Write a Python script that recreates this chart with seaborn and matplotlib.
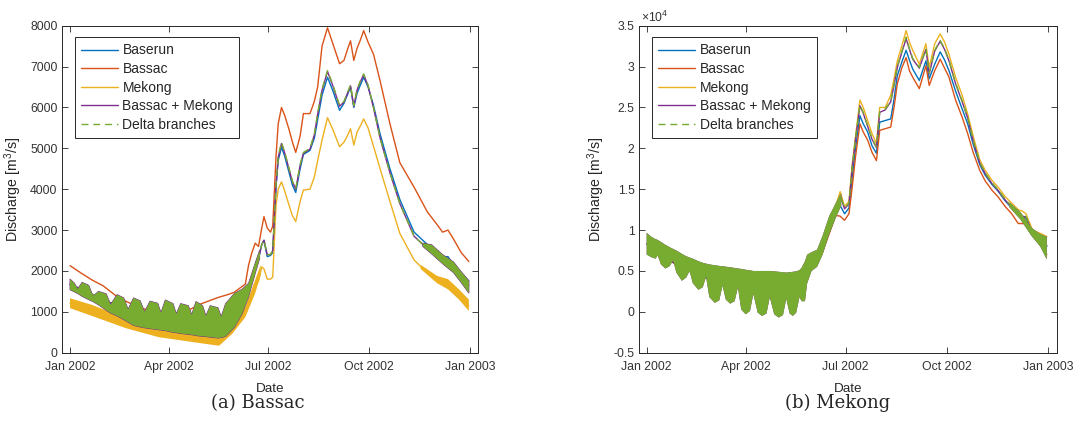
import numpy as np
import pandas as pd
import seaborn as sns
import matplotlib
matplotlib.use('Agg')
import matplotlib.pyplot as plt
import matplotlib.dates as mdates
from matplotlib.ticker import FuncFormatter

nan = np.nan

# 数据（按图读取，单位 m3/s，天数从 2002-01-01 起算）
base = pd.Timestamp('2002-01-01')

# ---- (a) Bassac ----
days_a = [0, 10, 20, 30, 45, 60, 75, 90, 105, 120,
          135, 145, 150, 156, 160, 163, 166, 169, 172, 175,
          177, 180, 183, 185, 188, 190, 193, 196, 200, 203,
          206, 210, 213, 219, 223, 226, 230, 235, 240, 246,
          250, 253, 256, 259, 262, 265, 268, 272, 277, 283,
          292, 301, 314, 326, 336, 340, 345, 350, 357, 364]

baserun_a = [1670, 1560, 1430, 1300, 1130, 950, 850, 780, 720, 700,
             680, 760, 900, 1100, 1250, 1500, 1800, 2150, 2300, 2650,
             2750, 2350, 2380, 2450, 4050, 4700, 5030, 4800, 4400, 4100,
             3920, 4500, 4850, 4950, 5250, 5700, 6300, 6740, 6400, 5930,
             6100, 6300, 6500, 6000, 6350, 6550, 6740, 6500, 6050, 5350,
             4500, 3750, 2950, 2650, 2450, 2350, 2350, 2150, 1950, 1750]

bassac_a = [2130, 1950, 1780, 1640, 1330, 1150, 1000, 950, 1000, 1200,
            1350, 1430, 1480, 1600, 1680, 2150, 2450, 2680, 2600, 3050,
            3330, 3050, 2950, 3100, 4800, 5600, 6000, 5800, 5450, 5150,
            4900, 5300, 5850, 5850, 6150, 6500, 7500, 7950, 7550, 7070,
            7150, 7400, 7630, 7150, 7450, 7650, 7880, 7600, 7300, 6650,
            5600, 4650, 4050, 3450, 3100, 2950, 3000, 2780, 2450, 2230]

mekong_a = [1210, 1120, 1050, 950, 800, 680, 580, 510, 460, 410,
            340, 500, 640, 800, 1000, 1150, 1350, 1600, 1750, 2100,
            2050, 1800, 1800, 1850, 3600, 4000, 4180, 3950, 3600, 3350,
            3210, 3700, 3980, 4000, 4300, 4700, 5200, 5750, 5450, 5040,
            5150, 5300, 5480, 5080, 5400, 5550, 5720, 5500, 5050, 4500,
            3700, 2920, 2270, 1950, 1780, 1700, 1680, 1550, 1350, 1150]

combined_a = [1670, 1560, 1430, 1300, 1130, 950, 850, 780, 720, 700,
              680, 760, 900, 1100, 1250, 1500, 1800, 2150, 2300, 2650,
              2750, 2400, 2400, 2500, 4100, 4780, 5120, 4880, 4480, 4180,
              4000, 4580, 4880, 4980, 5330, 5830, 6420, 6880, 6520, 6030,
              6130, 6330, 6530, 6030, 6430, 6630, 6800, 6530, 5990, 5250,
              4400, 3650, 2850, 2550, 2350, 2250, 2250, 2100, 1850, 1650]

delta_a = [1670, 1560, 1430, 1300, 1130, 950, 850, 780, 720, 700,
           680, 760, 900, 1100, 1250, 1500, 1800, 2150, 2300, 2650,
           2750, 2400, 2400, 2500, 4100, 4800, 5150, 4900, 4500, 4200,
           4020, 4600, 4900, 5000, 5350, 5850, 6450, 6900, 6550, 6050,
           6150, 6350, 6550, 6050, 6450, 6650, 6820, 6550, 6000, 5250,
           4400, 3650, 2850, 2550, 2350, 2250, 2250, 2100, 1850, 1650]

# 潮汐包络（Delta branches / Bassac + Mekong），大小潮形成的"驼峰"
tide_days_a = [0, 4, 7, 11, 17, 21, 26, 33, 37, 43,
               49, 53, 58, 64, 68, 73, 80, 83, 87, 94,
               97, 101, 108, 111, 115, 121, 124, 128, 135, 138,
               142, 150, 157, 163, 169, 173, 250, 322, 330, 340,
               350, 357, 364]
tide_lo_a = [1540, 1490, 1450, 1380, 1300, 1250, 1170, 1040, 970, 900,
             810, 750, 670, 630, 610, 590, 565, 555, 540, 500,
             490, 470, 450, 440, 420, 400, 395, 380, 360, 370,
             400, 620, 950, 1370, 1940, 2300, nan, 2600, 2420, 2180,
             1960, 1720, 1460]
tide_hi_a = [1800, 1700, 1560, 1720, 1650, 1380, 1500, 1440, 1180, 1420,
             1340, 1060, 1340, 1270, 1000, 1260, 1210, 980, 1290, 1200,
             950, 1200, 1150, 930, 1250, 1150, 900, 1150, 1100, 880,
             1200, 1450, 1550, 1700, 2190, 2500, nan, 2680, 2640, 2400,
             2220, 1980, 1760]

# 潮汐包络（Mekong）
mk_days_a = [0, 20, 51, 81, 112, 136, 148, 160, 169, 174,
             250, 320, 335, 345, 355, 364]
mk_lo_a = [1090, 900, 600, 380, 260, 170, 460, 870, 1455, 1900,
           nan, 2050, 1700, 1550, 1300, 1020]
mk_hi_a = [1333, 1170, 846, 642, 560, 480, 724, 1130, 1780, 2150,
           nan, 2150, 1880, 1800, 1550, 1300]

# ---- (b) Mekong ----
days_b = [0, 10, 20, 30, 45, 60, 75, 90, 105, 120,
          135, 145, 150, 156, 160, 164, 168, 172, 176, 180,
          184, 187, 190, 194, 197, 201, 205, 209, 212, 217,
          222, 225, 228, 232, 236, 239, 242, 248, 254, 257,
          262, 267, 271, 275, 281, 287, 292, 297, 303, 308,
          314, 320, 326, 332, 338, 342, 345, 351, 358, 364]

baserun_b = [8300, 7400, 6400, 5500, 4600, 3900, 3500, 2800, 2700, 2500,
             2600, 4000, 5900, 6500, 7700, 9200, 10800, 12300, 13000, 12000,
             12700, 16500, 20000, 24000, 23000, 22000, 20300, 19400, 23200, 23400,
             23600, 26000, 28900, 30500, 32000, 30800, 29700, 28300, 30700, 28500,
             30300, 31800, 30800, 29500, 27000, 24800, 23000, 20500, 18000, 16700,
             15600, 14700, 13600, 12700, 11800, 11600, 11500, 9500, 8700, 8000]

bassac_b = [8300, 7400, 6400, 5500, 4600, 3900, 3500, 2800, 2700, 2500,
            2600, 4000, 5800, 6300, 7300, 8800, 10300, 11800, 11700, 11200,
            12000, 15300, 19000, 23000, 22000, 21000, 19500, 18500, 22200, 22400,
            22600, 25000, 27900, 29800, 31100, 29500, 28700, 27300, 30100, 27700,
            29500, 30900, 29800, 28700, 25900, 23800, 21800, 19500, 17300, 16000,
            14900, 14000, 12900, 12000, 10800, 10800, 10800, 9300, 8200, 7000]

mekong_b = [8300, 7400, 6400, 5500, 4600, 3900, 3500, 2800, 2700, 2500,
            2600, 4000, 6200, 6800, 8300, 10000, 11500, 13000, 14700, 12900,
            13500, 18100, 21500, 25900, 25000, 23400, 21800, 20600, 25000, 25000,
            26500, 28500, 30700, 32500, 34400, 33000, 32000, 30300, 32800, 29900,
            32800, 34000, 33000, 31500, 28700, 26500, 24200, 21500, 18600, 17300,
            16100, 15200, 14100, 13300, 12500, 12300, 12000, 10000, 9600, 9200]

combined_b = [8300, 7400, 6400, 5500, 4600, 3900, 3500, 2800, 2700, 2500,
              2600, 4000, 6000, 6600, 8000, 9600, 11200, 12700, 14200, 12600,
              13200, 17700, 21100, 25200, 24300, 22700, 21100, 20100, 24400, 24700,
              25700, 27700, 29900, 31700, 33400, 32100, 30900, 29800, 32100, 29100,
              31900, 33100, 32100, 30700, 27900, 25700, 23700, 20900, 18200, 16900,
              15700, 14800, 13700, 12800, 11900, 11700, 11600, 9600, 8800, 8100]

delta_b = [8300, 7400, 6400, 5500, 4600, 3900, 3500, 2800, 2700, 2500,
           2600, 4000, 6000, 6600, 8000, 9600, 11200, 12700, 14300, 12700,
           13300, 17800, 21200, 25300, 24400, 22800, 21200, 20200, 24500, 24800,
           25800, 27800, 30000, 31800, 33600, 32200, 31000, 29900, 32200, 29200,
           32000, 33200, 32200, 30800, 28000, 25800, 23800, 21000, 18300, 17000,
           15800, 14900, 13800, 12900, 12000, 11800, 11700, 9700, 8900, 8200]

# 潮汐包络（下缘的"垂叶"形状）
tide_days_b = [0, 4, 8, 10, 13, 17, 21, 24, 27, 32,
               36, 39, 42, 47, 51, 54, 57, 62, 66, 69,
               72, 76, 80, 83, 86, 90, 94, 97, 101, 105,
               109, 112, 116, 120, 124, 127, 130, 133, 136, 139,
               141, 144, 146, 150, 155, 160, 166, 172, 177, 250,
               330, 340, 350, 358, 364]
tide_lo_b = [7000, 6700, 6500, 6900, 5800, 5300, 5600, 6300, 4800, 3800,
             4200, 5000, 3500, 2700, 3000, 4300, 1800, 1100, 1400, 3200,
             1500, 1000, 1300, 3000, 300, -300, 100, 2200, -100, -500,
             -200, 1800, -300, -700, -400, 1600, -200, -500, -100, 1800,
             1300, 1300, 3500, 5000, 5500, 7000, 9500, 11500, 13000, nan,
             12800, 11300, 9300, 8000, 6400]
tide_hi_b = [9670, 9200, 8900, 8800, 8550, 8200, 7900, 7700, 7500, 7100,
             6800, 6650, 6500, 6200, 6000, 5900, 5800, 5700, 5620, 5580,
             5520, 5450, 5370, 5300, 5250, 5150, 5080, 5000, 5000, 5000,
             5000, 5000, 4950, 4900, 4850, 4800, 4850, 4900, 4950, 5100,
             5400, 6200, 7000, 7300, 7600, 9300, 11700, 13300, 14500, nan,
             13400, 12200, 10300, 9500, 9200]

labels = ['Baserun', 'Bassac', 'Mekong', 'Bassac + Mekong', 'Delta branches']
colors = ['#0072BD', '#D95319', '#EDB120', '#7E2F8E', '#77AC30']
styles = ['-', '-', '-', '-', (0, (5, 3.5))]

sns.set_style('ticks')
plt.rcParams['font.family'] = ['Liberation Sans', 'DejaVu Sans']
plt.rcParams['mathtext.fontset'] = 'custom'
plt.rcParams['mathtext.rm'] = 'Liberation Sans'
plt.rcParams['mathtext.it'] = 'Liberation Sans:italic'

fig = plt.figure(figsize=(10.75, 4.41), dpi=100)
ax_a = fig.add_axes([0.0574, 0.2002, 0.3873, 0.7415])
ax_b = fig.add_axes([0.5942, 0.2002, 0.3890, 0.7415])


def to_dates(days):
    return base + pd.to_timedelta(np.array(days, dtype=float), unit='D')


def draw_panel(ax, days, values, bands, edge_width):
    # 按 MATLAB 的绘制顺序叠放：后画的序列（含潮汐带）盖住先画的
    dates = to_dates(days)
    for i, (name, color, ls, vals) in enumerate(zip(labels, colors, styles, values)):
        z = 2 + i
        if i in bands:
            tdays, lo, hi = bands[i]
            lw = edge_width if i == 3 else 0
            ax.fill_between(to_dates(tdays), np.array(lo, float), np.array(hi, float),
                            facecolor=color, edgecolor=color if lw else 'none',
                            linewidth=lw, zorder=z)
        df = pd.DataFrame({'date': dates, 'q': vals})
        sns.lineplot(data=df, x='date', y='q', ax=ax, color=color, linestyle=ls,
                     linewidth=1.0, label=name, sort=False, errorbar=None, zorder=z + 0.5)


draw_panel(ax_a, days_a, [baserun_a, bassac_a, mekong_a, combined_a, delta_a],
           {2: (mk_days_a, mk_lo_a, mk_hi_a),
            3: (tide_days_a, tide_lo_a, tide_hi_a),
            4: (tide_days_a, tide_lo_a, tide_hi_a)}, 0.7)
draw_panel(ax_b, days_b, [baserun_b, bassac_b, mekong_b, combined_b, delta_b],
           {3: (tide_days_b, tide_lo_b, tide_hi_b),
            4: (tide_days_b, tide_lo_b, tide_hi_b)}, 0)

ticks = [pd.Timestamp(s) for s in ['2002-01-01', '2002-04-01', '2002-07-01', '2002-10-01', '2003-01-01']]

for ax, (x0, x1) in [(ax_a, (-7.6, 372.4)), (ax_b, (-7.2, 373.2))]:
    ax.set_xlim(mdates.date2num(base + pd.Timedelta(days=x0)), mdates.date2num(base + pd.Timedelta(days=x1)))
    ax.set_xticks([mdates.date2num(t) for t in ticks])
    ax.xaxis.set_major_formatter(mdates.DateFormatter('%b %Y'))
    ax.tick_params(direction='in', top=True, right=True, length=4, width=0.6,
                   color='#262626', labelcolor='#333333', labelsize=8.8)
    ax.tick_params(axis='x', pad=6)
    ax.tick_params(axis='y', pad=3)
    for sp in ax.spines.values():
        sp.set_linewidth(0.7)
        sp.set_color('#262626')
        sp.set_zorder(10)
    ax.set_xlabel('Date', fontsize=9.7, color='#262626')
    ax.set_ylabel('Discharge [m$^{3}$/s]', fontsize=10.2, color='#262626')
    ax.xaxis.set_label_coords(0.5, -0.093)
    leg = ax.legend(loc='upper left', bbox_to_anchor=(0.032, 0.965), borderaxespad=0,
                    fontsize=10, frameon=True, fancybox=False, framealpha=1,
                    edgecolor='#262626', labelspacing=0.33, borderpad=0.45,
                    handlelength=2.66, handletextpad=0.3)
    leg.get_frame().set_linewidth(0.7)
    leg.set_zorder(20)

ax_a.set_ylim(0, 8000)
ax_a.set_yticks(range(0, 8001, 1000))
ax_a.yaxis.set_label_coords(-0.0906, 0.5)

ax_b.set_ylim(-5000, 35000)
ax_b.set_yticks(range(-5000, 35001, 5000))
ax_b.yaxis.set_major_formatter(FuncFormatter(lambda v, p: f'{v / 1e4:g}'))
ax_b.yaxis.set_label_coords(-0.076, 0.5)

fig.text(641 / 1075, 1 - 17.5 / 441, r'$\times10^{4}$', fontsize=8.8, color='#333333',
         ha='left', va='center')

fig.text(258 / 1075, 1 - 403 / 441, '(a) Bassac', fontsize=13, family='DejaVu Serif',
         ha='center', va='center')
fig.text(838 / 1075, 1 - 403 / 441, '(b) Mekong', fontsize=13, family='DejaVu Serif',
         ha='center', va='center')

fig.savefig('out.png', dpi=100)
